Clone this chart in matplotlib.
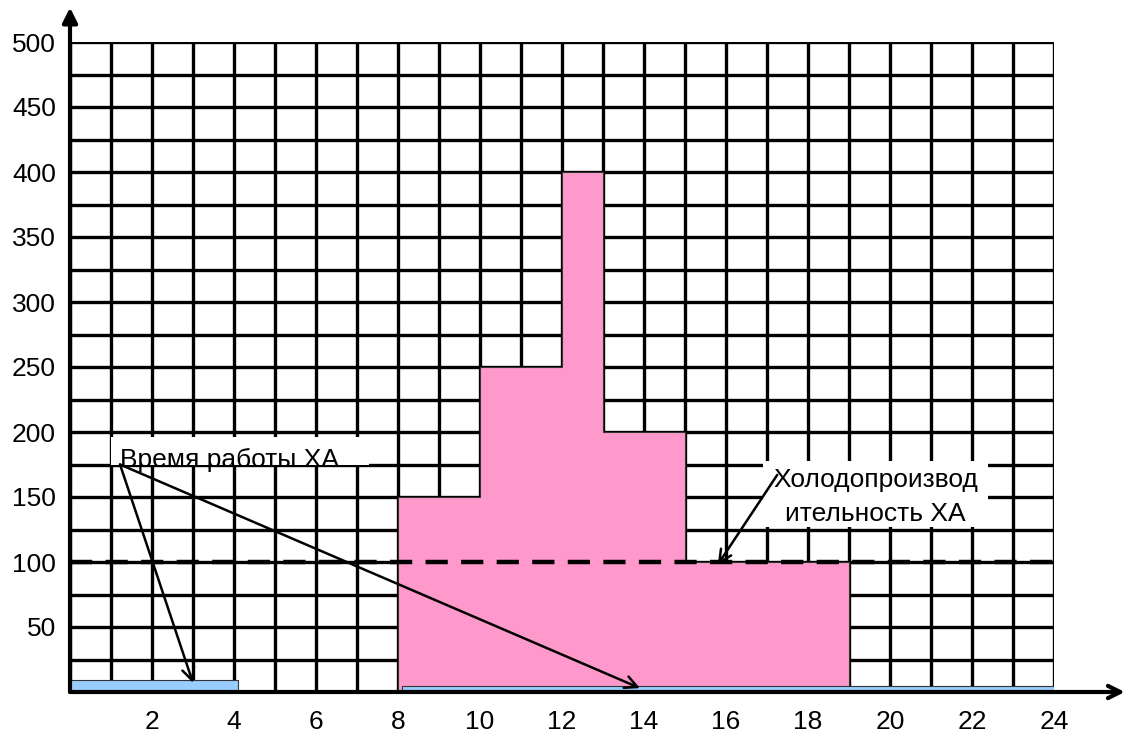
import matplotlib
matplotlib.use("Agg")
import matplotlib.pyplot as plt
from matplotlib.patches import Rectangle

plt.rcParams['font.family'] = ['Liberation Sans', 'DejaVu Sans']

# --- data ---
load_edges = [8, 10, 12, 13, 15, 19]
load_value = [150, 250, 400, 200, 100]

work_start = [0, 8.1]
work_width = [4.1, 15.9]
work_height = [9, 5]

capacity = 100
x_ticks = [2, 4, 6, 8, 10, 12, 14, 16, 18, 20, 22, 24]
y_ticks = [50, 100, 150, 200, 250, 300, 350, 400, 450, 500]
label_work = "Время работы ХА"
label_cap = "Холодопроизвод\nительность ХА"

fig = plt.figure(figsize=(11.27, 7.49), dpi=100)
ax = fig.add_axes([70/1127, 57/749, 984/1127, 650/749])
ax.set_xlim(0, 24)
ax.set_ylim(0, 500)

# grid
for xv in range(0, 25):
    ax.axvline(xv, color='black', lw=2.4, zorder=1)
for yv in range(25, 501, 25):
    ax.axhline(yv, color='black', lw=2.4, zorder=1)

# load profile (single stepped area)
ax.stairs(load_value, load_edges, baseline=0, fill=True,
          facecolor='#FF99CC', edgecolor='#333333', linewidth=0.8, zorder=2)
# work bars
ax.bar(work_start, work_height, width=work_width, align='edge',
       color='#99CCFF', edgecolor='#333333', linewidth=0.8, zorder=3)

# capacity dashed line
ax.axhline(capacity, color='black', lw=3.2, ls=(0, (5, 3)), zorder=4)

# spines / axes arrows
for s in ax.spines.values():
    s.set_visible(False)
ax.annotate('', xy=(0, 1.053), xytext=(0, 0), xycoords='axes fraction',
            arrowprops=dict(arrowstyle='-|>', color='black', lw=3, mutation_scale=22,
                            shrinkA=0, shrinkB=0), annotation_clip=False, zorder=6)
ax.annotate('', xy=(1.072, 0), xytext=(0, 0), xycoords='axes fraction',
            arrowprops=dict(arrowstyle='->', color='black', lw=3, mutation_scale=22,
                            shrinkA=0, shrinkB=0), annotation_clip=False, zorder=6)

ax.set_xticks(x_ticks)
ax.set_xticklabels([str(v) for v in x_ticks])
ax.set_yticks(y_ticks)
ax.set_yticklabels([str(v) for v in y_ticks])
ax.tick_params(length=0, labelsize=19, pad=13, axis='x')
ax.tick_params(length=0, labelsize=19, pad=10, axis='y')

# label box "Время работы ХА" (text clipped at the bottom like the original)
box = Rectangle((1.0, 175), 6.3, 21, facecolor='white', edgecolor='none', zorder=7)
ax.add_patch(box)
t = ax.text(1.22, 173, label_work, fontsize=19, ha='left', va='baseline', zorder=8)
t.set_clip_path(box)

ax.annotate('', xy=(3.0, 7), xytext=(1.22, 175),
            arrowprops=dict(arrowstyle='->', color='black', lw=1.8, mutation_scale=22,
                            shrinkA=0, shrinkB=0), zorder=8)
ax.annotate('', xy=(13.9, 3), xytext=(1.22, 175),
            arrowprops=dict(arrowstyle='->', color='black', lw=1.8, mutation_scale=22,
                            shrinkA=0, shrinkB=0), zorder=8)

# capacity label box
box2 = Rectangle((16.9, 127), 5.5, 51, facecolor='white', edgecolor='none', zorder=7)
ax.add_patch(box2)
ax.text(19.65, 150, label_cap, fontsize=19, ha='center', va='center',
        linespacing=1.5, zorder=8)
ax.annotate('', xy=(15.8, 98), xytext=(17.25, 167),
            arrowprops=dict(arrowstyle='->', color='black', lw=1.8, mutation_scale=22,
                            shrinkA=0, shrinkB=0), zorder=9)

fig.savefig('out.png', dpi=100)
